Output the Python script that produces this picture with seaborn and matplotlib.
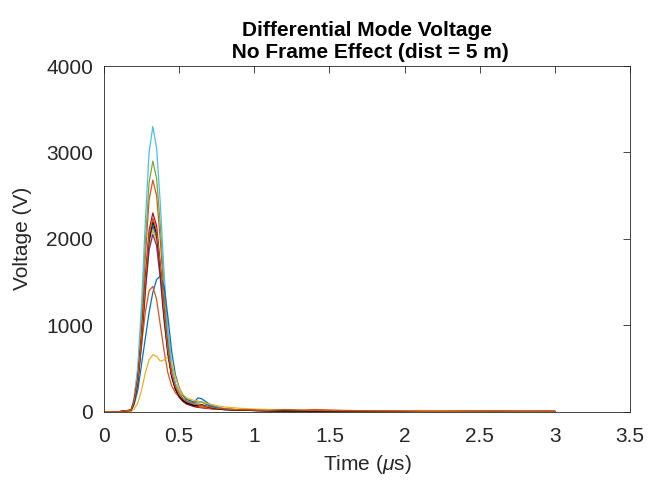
import numpy as np
import pandas as pd
import matplotlib
matplotlib.use("Agg")
import matplotlib.pyplot as plt
import seaborn as sns

# time axis (microseconds)
time_us = [0.0, 0.1, 0.18, 0.2, 0.225, 0.25, 0.275, 0.3, 0.325, 0.35, 0.375, 0.4, 0.425,
           0.45, 0.475, 0.5, 0.525, 0.55, 0.6, 0.625, 0.65, 0.7, 0.75, 0.8, 0.9, 1.0,
           1.1, 1.2, 1.3, 1.4, 1.6, 1.8, 2.0, 2.1, 2.2, 2.4, 2.6, 2.8, 3.0]

# voltage traces (V)
v_blue_a = [0, 0, 15, 110, 350, 830, 1450, 1960, 2150, 2010, 1600, 1100, 690, 420, 270, 180, 140,
            110, 110, 160, 150, 90, 55, 35, 20, 15, 12, 10, 8, 8, 6, 5, 3, 2, 0, 5, 6, 4, 5]
v_orange_a = [0, 0, 15, 130, 420, 1000, 1800, 2450, 2680, 2500, 1980, 1330, 820, 490, 310, 210, 150,
              115, 80, 70, 60, 50, 40, 30, 20, 15, 15, 20, 15, 25, 15, 10, 8, 5, 6, 5, 8, 6, 5]
v_yellow_a = [0, 0, 10, 90, 320, 780, 1400, 1900, 2100, 1980, 1600, 1120, 720, 460, 320, 240, 190,
              150, 110, 100, 80, 60, 45, 35, 25, 20, 18, 15, 12, 10, 8, 6, 10, 15, 8, 6, 5, 4, 4]
v_purple_a = [0, 0, 15, 100, 330, 790, 1390, 1870, 2050, 1920, 1530, 1050, 660, 400, 260, 170, 120,
              90, 60, 55, 50, 40, 30, 25, 18, 14, 10, 8, 7, 6, 5, 4, 3, 2, 2, 2, 3, 2, 2]
v_green_a = [0, 0, 15, 140, 450, 1100, 1950, 2650, 2900, 2700, 2150, 1450, 880, 520, 320, 220, 160,
             120, 80, 70, 60, 45, 35, 30, 20, 15, 12, 10, 10, 8, 6, 5, 4, 3, 2, 4, 5, 3, 4]
v_cyan_a = [0, 0, 20, 160, 520, 1250, 2200, 3000, 3300, 3050, 2400, 1600, 950, 560, 330, 210, 150,
            110, 90, 100, 120, 80, 50, 35, 20, 15, 10, 12, 8, 10, 5, 8, 6, 0, -10, 5, 8, 5, 8]
v_red_a = [0, 0, 20, 120, 380, 880, 1550, 2100, 2300, 2150, 1700, 1150, 700, 420, 260, 170, 120,
           90, 60, 50, 45, 35, 30, 25, 20, 15, 12, 10, 8, 8, 6, 5, 4, 3, 2, 3, 4, 3, 2]
v_blue_b = [0, 0, 10, 80, 250, 550, 850, 1150, 1380, 1530, 1570, 1450, 1100, 700, 430, 280, 190,
            140, 110, 120, 110, 70, 45, 30, 20, 15, 12, 10, 8, 6, 5, 4, 3, 2, -15, 3, 4, 3, 3]
v_orange_b = [0, 0, 15, 120, 380, 780, 1150, 1400, 1450, 1300, 1000, 700, 450, 300, 220, 170, 130,
              100, 70, 60, 50, 40, 30, 25, 20, 15, 12, 10, 8, 6, 5, 4, 3, 2, 2, 3, 3, 2, 3]
v_yellow_b = [0, 0, 5, 30, 100, 250, 450, 600, 660, 640, 585, 600, 630, 560, 400, 270, 200,
              160, 130, 120, 110, 90, 70, 55, 40, 30, 25, 20, 15, 12, 10, 8, 10, 6, 5, 5, 6, 5, 5]
v_black_a = [0, 0, 15, 110, 360, 850, 1480, 2000, 2200, 2060, 1640, 1120, 700, 420, 270, 180, 130,
             100, 70, 70, 80, 50, 35, 25, 18, 14, 10, 8, 8, 6, 5, 4, 3, 2, 2, 3, 3, 2, 3]
v_orange_c = [0, 0, 18, 120, 370, 870, 1500, 2040, 2240, 2100, 1680, 1150, 720, 440, 290, 200, 150,
              120, 90, 80, 70, 55, 40, 30, 22, 18, 15, 25, 20, 15, 10, 8, 6, 4, 3, 4, 5, 4, 4]

traces = {
    "a1": (v_blue_a, "#0072BD"),
    "a2": (v_orange_a, "#D95319"),
    "a3": (v_yellow_a, "#EDB120"),
    "a4": (v_purple_a, "#7E2F8E"),
    "a5": (v_green_a, "#77AC30"),
    "a6": (v_cyan_a, "#4DBEEE"),
    "a7": (v_red_a, "#A2142F"),
    "b1": (v_blue_b, "#0072BD"),
    "b2": (v_orange_b, "#D95319"),
    "b3": (v_yellow_b, "#EDB120"),
    "b4": (v_black_a, "#000000"),
    "b5": (v_orange_c, "#D95319"),
}

rows = []
for name, (vals, col) in traces.items():
    for t, v in zip(time_us, vals):
        rows.append((name, t, v))
df = pd.DataFrame(rows, columns=["trace", "time", "voltage"])
palette = {k: c for k, (v, c) in traces.items()}

sns.set_style("white")
plt.rcParams["font.family"] = ["Liberation Sans", "DejaVu Sans"]
plt.rcParams["mathtext.fontset"] = "custom"
plt.rcParams["mathtext.it"] = "Liberation Sans:italic"
plt.rcParams["mathtext.rm"] = "Liberation Sans"

fig = plt.figure(figsize=(6.51, 4.84), dpi=100)
ax = fig.add_axes([104 / 651, 1 - 411.7 / 484, (630 - 104) / 651, (411.7 - 66) / 484])

sns.lineplot(data=df, x="time", y="voltage", hue="trace", palette=palette,
             linewidth=0.9, legend=False, ax=ax, estimator=None, sort=False)

ax.set_xlim(0, 3.5)
ax.set_ylim(0, 4000)
ax.set_xticks([0, 0.5, 1, 1.5, 2, 2.5, 3, 3.5])
ax.set_xticklabels(["0", "0.5", "1", "1.5", "2", "2.5", "3", "3.5"])
ax.set_yticks([0, 1000, 2000, 3000, 4000])
ax.set_yticklabels(["0", "1000", "2000", "3000", "4000"])

for s in ax.spines.values():
    s.set_color("#262626")
    s.set_linewidth(0.6)
    s.set_visible(True)
ax.tick_params(axis="both", direction="in", length=5, width=0.6, colors="#262626",
               labelsize=15, top=True, right=True, labeltop=False, labelright=False)
ax.tick_params(axis="x", pad=11)
ax.tick_params(axis="y", pad=8)
for lab in ax.get_xticklabels() + ax.get_yticklabels():
    lab.set_color("#262626")

ax.set_xlabel(r"Time ($\mu$s)", fontsize=15, color="#262626", labelpad=5)
ax.set_ylabel("Voltage (V)", fontsize=15, color="#262626", labelpad=10)
ax.set_title("Differential Mode Voltage\n No Frame Effect (dist = 5 m)",
             fontsize=15, fontweight="bold", color="#000000", pad=6, linespacing=1.2)

fig.savefig("out.png", dpi=100)
